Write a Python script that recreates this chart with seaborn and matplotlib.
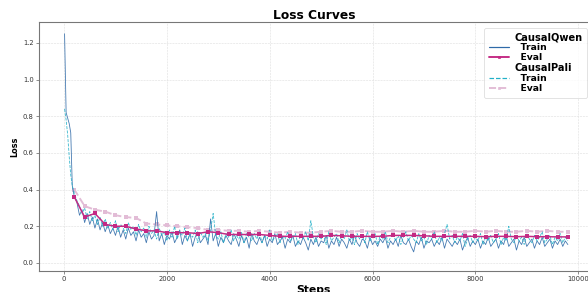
import numpy as np
import pandas as pd
import matplotlib
matplotlib.use("Agg")
import matplotlib.pyplot as plt
import seaborn as sns
from matplotlib.lines import Line2D

# steps for the train curves (first few are denser)
train_steps = [10, 40, 70, 100, 130, 160] + list(range(200, 9850, 50))

qwen_train = [1.25, 0.82, 0.79, 0.76, 0.71, 0.42,
    0.36, 0.33, 0.26, 0.29, 0.22, 0.27, 0.21, 0.25, 0.19, 0.24,
    0.18, 0.22, 0.17, 0.21, 0.16, 0.19, 0.15, 0.20, 0.14, 0.18,
    0.13, 0.19, 0.15, 0.17, 0.12, 0.18, 0.14, 0.16, 0.11, 0.17,
    0.13, 0.15, 0.28, 0.12, 0.16, 0.10, 0.15, 0.13, 0.17, 0.11,
    0.14, 0.18, 0.10, 0.15, 0.12, 0.16, 0.09, 0.14, 0.17, 0.11,
    0.13, 0.15, 0.10, 0.24, 0.12, 0.16, 0.09, 0.14, 0.11, 0.15,
    0.12, 0.10, 0.16, 0.13, 0.09, 0.15, 0.11, 0.14, 0.08, 0.16,
    0.12, 0.10, 0.14, 0.11, 0.15, 0.09, 0.13, 0.11, 0.16, 0.10,
    0.12, 0.14, 0.08, 0.13, 0.11, 0.15, 0.09, 0.12, 0.10, 0.14,
    0.11, 0.07, 0.13, 0.10, 0.14, 0.09, 0.12, 0.11, 0.15, 0.08,
    0.12, 0.10, 0.14, 0.09, 0.13, 0.11, 0.08, 0.13, 0.10, 0.15,
    0.11, 0.09, 0.13, 0.12, 0.08, 0.14, 0.10, 0.12, 0.09, 0.13,
    0.11, 0.14, 0.08, 0.12, 0.10, 0.13, 0.09, 0.15, 0.11, 0.10,
    0.13, 0.09, 0.06, 0.12, 0.10, 0.14, 0.08, 0.12, 0.11, 0.13,
    0.09, 0.12, 0.10, 0.14, 0.08, 0.13, 0.11, 0.09, 0.12, 0.10,
    0.13, 0.07, 0.11, 0.14, 0.09, 0.12, 0.10, 0.13, 0.08, 0.12,
    0.10, 0.14, 0.09, 0.11, 0.13, 0.08, 0.12, 0.10, 0.15, 0.09,
    0.11, 0.13, 0.07, 0.12, 0.10, 0.14, 0.09, 0.11, 0.13, 0.08,
    0.12, 0.10, 0.14, 0.09, 0.11, 0.13, 0.08, 0.12, 0.10, 0.13,
    0.09, 0.12, 0.10]

pali_train = [0.84, 0.78, 0.70, 0.58, 0.48, 0.42,
    0.38, 0.34, 0.31, 0.27, 0.30, 0.24, 0.28, 0.23, 0.26, 0.21,
    0.25, 0.20, 0.24, 0.19, 0.22, 0.18, 0.23, 0.17, 0.21, 0.19,
    0.16, 0.22, 0.18, 0.20, 0.15, 0.21, 0.17, 0.19, 0.14, 0.20,
    0.16, 0.18, 0.13, 0.19, 0.15, 0.17, 0.12, 0.18, 0.14, 0.20,
    0.13, 0.17, 0.15, 0.19, 0.12, 0.16, 0.14, 0.18, 0.11, 0.17,
    0.14, 0.16, 0.12, 0.18, 0.27, 0.15, 0.13, 0.17, 0.11, 0.16,
    0.14, 0.18, 0.12, 0.15, 0.13, 0.17, 0.11, 0.16, 0.14, 0.12,
    0.16, 0.13, 0.17, 0.11, 0.15, 0.13, 0.18, 0.12, 0.14, 0.16,
    0.11, 0.15, 0.13, 0.17, 0.12, 0.14, 0.16, 0.10, 0.15, 0.13,
    0.17, 0.12, 0.23, 0.14, 0.11, 0.16, 0.13, 0.15, 0.10, 0.17,
    0.12, 0.14, 0.16, 0.11, 0.15, 0.13, 0.18, 0.12, 0.14, 0.10,
    0.16, 0.13, 0.15, 0.11, 0.17, 0.12, 0.14, 0.16, 0.10, 0.15,
    0.13, 0.17, 0.11, 0.14, 0.16, 0.12, 0.15, 0.10, 0.14, 0.17,
    0.12, 0.15, 0.13, 0.11, 0.16, 0.12, 0.14, 0.10, 0.15, 0.13,
    0.17, 0.11, 0.14, 0.12, 0.16, 0.21, 0.13, 0.15, 0.11, 0.14,
    0.12, 0.16, 0.09, 0.13, 0.15, 0.11, 0.14, 0.12, 0.16, 0.10,
    0.14, 0.12, 0.15, 0.11, 0.13, 0.16, 0.10, 0.14, 0.12, 0.20,
    0.13, 0.11, 0.15, 0.12, 0.14, 0.10, 0.16, 0.13, 0.11, 0.15,
    0.12, 0.14, 0.17, 0.11, 0.13, 0.15, 0.10, 0.14, 0.12, 0.16,
    0.11, 0.14, 0.12]

eval_steps = list(range(200, 10000, 200))

qwen_eval = [0.36, 0.25, 0.27, 0.21, 0.20, 0.20, 0.185, 0.175, 0.175, 0.165,
    0.165, 0.165, 0.16, 0.17, 0.165, 0.155, 0.155, 0.155, 0.155, 0.15,
    0.145, 0.145, 0.145, 0.145, 0.145, 0.15, 0.148, 0.145, 0.145, 0.145,
    0.145, 0.15, 0.15, 0.15, 0.148, 0.145, 0.145, 0.145, 0.145, 0.145,
    0.143, 0.145, 0.145, 0.143, 0.145, 0.143, 0.143, 0.142, 0.142]

pali_eval = [0.40, 0.31, 0.29, 0.28, 0.26, 0.25, 0.245, 0.215, 0.21, 0.205,
    0.20, 0.195, 0.19, 0.18, 0.18, 0.175, 0.175, 0.17, 0.175, 0.17,
    0.165, 0.17, 0.165, 0.165, 0.17, 0.175, 0.17, 0.17, 0.175, 0.17,
    0.17, 0.175, 0.17, 0.175, 0.17, 0.17, 0.175, 0.17, 0.17, 0.175,
    0.17, 0.175, 0.17, 0.17, 0.175, 0.17, 0.175, 0.17, 0.17]

c_qt = "#2f6aa8"
c_qe = "#c42a84"
c_pt = "#22b0c8"
c_pe = "#e2bcd6"

sns.set_style("whitegrid", {"grid.linestyle": "--", "grid.color": "#dddddd",
                            "axes.edgecolor": "#777777"})
plt.rcParams['font.family'] = ['DejaVu Sans']

fig = plt.figure(figsize=(12, 5.95), dpi=49.08)
ax = fig.add_axes([0.066, 0.072, 0.934, 0.853])

df_qt = pd.DataFrame({"Steps": train_steps, "Loss": qwen_train})
df_pt = pd.DataFrame({"Steps": train_steps, "Loss": pali_train})
df_qe = pd.DataFrame({"Steps": eval_steps, "Loss": qwen_eval})
df_pe = pd.DataFrame({"Steps": eval_steps, "Loss": pali_eval})

sns.lineplot(data=df_pe, x="Steps", y="Loss", ax=ax, color=c_pe, lw=2.8,
             linestyle="--", marker="s", markersize=6, markeredgewidth=0)
sns.lineplot(data=df_qt, x="Steps", y="Loss", ax=ax, color=c_qt, lw=1.2, alpha=0.9)
sns.lineplot(data=df_pt, x="Steps", y="Loss", ax=ax, color=c_pt, lw=1.2,
             linestyle="--", alpha=0.9)
sns.lineplot(data=df_qe, x="Steps", y="Loss", ax=ax, color=c_qe, lw=2.2,
             marker="s", markersize=5, markeredgewidth=0)

ax.set_xlim(-490, 10210)
ax.set_ylim(-0.044, 1.315)
ax.set_xticks([0, 2000, 4000, 6000, 8000, 10000])
ax.set_yticks([0.0, 0.2, 0.4, 0.6, 0.8, 1.0, 1.2])
ax.tick_params(labelsize=10, colors="#333333", length=4, left=True, bottom=True)
for s in ax.spines.values():
    s.set_linewidth(1.6)
ax.set_title("Loss Curves", fontsize=18, fontweight="bold", pad=4, color="black")
ax.set_xlabel("Steps", fontsize=16, fontweight="bold", labelpad=4, color="black")
ax.set_ylabel("Loss", fontsize=12, fontweight="bold", labelpad=6, color="black")

blank = Line2D([], [], linestyle="none")
handles = [blank,
           Line2D([], [], color=c_qt, lw=1.8),
           Line2D([], [], color=c_qe, lw=2.8, marker="s", markersize=4),
           blank,
           Line2D([], [], color=c_pt, lw=1.8, linestyle="--"),
           Line2D([], [], color=c_pe, lw=2.8, linestyle="--", marker="s", markersize=4)]
labels = ["CausalQwen", "  Train", "  Eval", "CausalPali", "  Train", "  Eval"]
leg = ax.legend(handles, labels, loc="upper right", bbox_to_anchor=(1.005, 0.995),
                frameon=True, fontsize=13.5, handlelength=2.2, labelspacing=0.1,
                borderpad=0.5, handletextpad=0.6)
for i, t in enumerate(leg.get_texts()):
    t.set_fontweight("bold")
    t.set_color("black")
    if i in (0, 3):
        t.set_fontsize(14.5)

fig.savefig("out.png", dpi=49.08)
